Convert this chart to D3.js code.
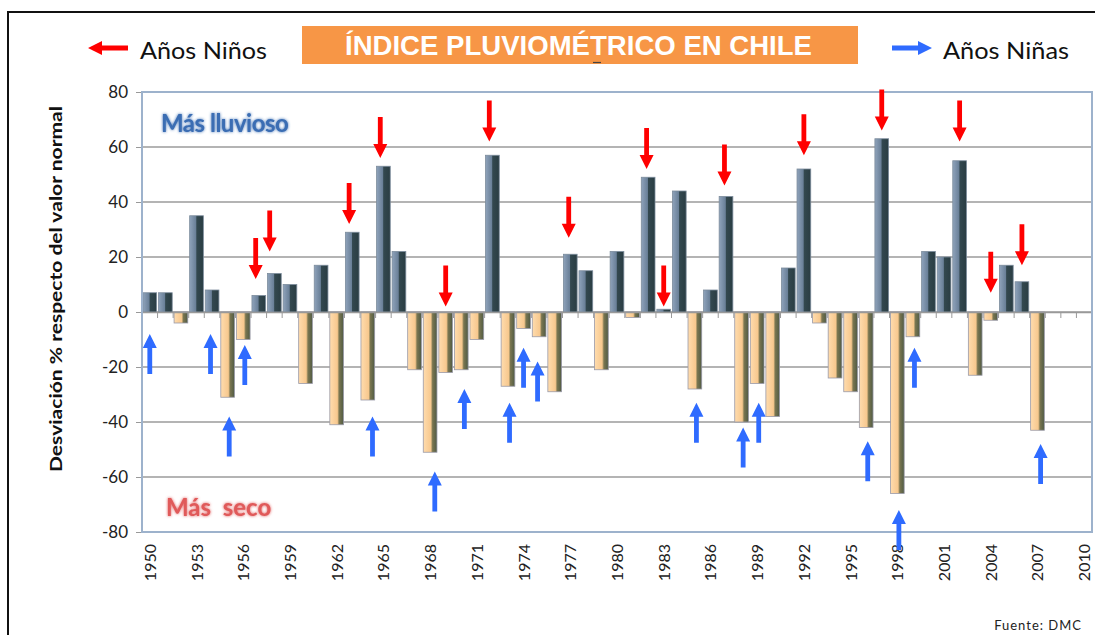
<!DOCTYPE html>
<html>
<head>
<meta charset="utf-8">
<script src="https://cdn.jsdelivr.net/npm/d3@7"></script>
<style>
  body { margin: 0; background: #fff; }
  text { font-family: Lato, "Open Sans", sans-serif; }
</style>
</head>
<body>
<script>
// años 1950-2010, desviación % (2008-2010 sin dato)
const years = d3.range(1950, 2011)
const values = [7, 7, -4, 35, 8, -31, -10, 6, 14, 10,
  -26, 17, -41, 29, -32, 53, 22, -21, -51, -22,
  -21, -10, 57, -27, -6, -9, -29, 21, 15, -21,
  22, -2, 49, 1, 44, -28, 8, 42, -40, -26,
  -38, 16, 52, -4, -24, -29, -42, 63, -66, -9,
  22, 20, 55, -23, -3, 17, 11, -43, null, null, null]
const tickYears = [1950, 1953, 1956, 1959, 1962, 1965, 1968, 1971, 1974, 1977, 1980,
  1983, 1986, 1989, 1992, 1995, 1998, 2001, 2004, 2007, 2010]
const yTicks = [-80, -60, -40, -20, 0, 20, 40, 60, 80]

// flechas: posicion (año) y punta (valor)
const ninoYears = [1956.8, 1957.7, 1962.8, 1964.8, 1969, 1971.8, 1976.9, 1981.9, 1983, 1986.9, 1992, 1997, 2002, 2004, 2006]
const ninoTips = [12, 22, 32, 56, 2, 62, 27, 52, 2, 46, 57, 66, 62, 7, 17]
const ninaYears = [1950, 1953.9, 1955.1, 1956.1, 1964.3, 1968.3, 1970.2, 1973.1, 1974, 1974.9, 1985.1, 1988.1, 1989.1, 1996.1, 1998.1, 1999.1, 2007.2]
const ninaTips = [-8, -8, -38, -12, -38, -58, -28, -33, -13, -18, -33, -42, -33, -47, -72, -13, -48]

const data = years.map((y, i) => ({year: y, v: values[i]}))

const W = 1095, H = 635
const plot = {left: 142, right: 1092, top: 92, bottom: 532}

const svg = d3.select('body').append('svg').attr('width', W).attr('height', H)
const defs = svg.append('defs')

// gradientes tipo excel 3D
const gPos = defs.append('linearGradient').attr('id', 'gpos')
gPos.selectAll('stop').data([
  ['0%', '#8fa3bb'], ['45%', '#6a8098'], ['52%', '#33484f'], ['100%', '#2a3d43']
]).enter().append('stop').attr('offset', d => d[0]).attr('stop-color', d => d[1])
const gNeg = defs.append('linearGradient').attr('id', 'gneg')
gNeg.selectAll('stop').data([
  ['0%', '#ffdcae'], ['55%', '#f7c88e'], ['68%', '#7a7650'], ['100%', '#4f5a44']
]).enter().append('stop').attr('offset', d => d[0]).attr('stop-color', d => d[1])

const glow = defs.append('filter').attr('id', 'glow').attr('x', '-10%').attr('y', '-30%').attr('width', '120%').attr('height', '160%')
glow.append('feGaussianBlur').attr('in', 'SourceGraphic').attr('stdDeviation', 1.6).attr('result', 'b')
const fm = glow.append('feMerge')
fm.append('feMergeNode').attr('in', 'b')
fm.append('feMergeNode').attr('in', 'SourceGraphic')

// marco exterior
svg.append('rect').attr('x', 8).attr('y', 12).attr('width', W).attr('height', H)
  .attr('fill', 'none').attr('stroke', '#111').attr('stroke-width', 2)

const x = d3.scaleBand().domain(years).range([plot.left, plot.right]).paddingInner(0.12).paddingOuter(0.06)
const y = d3.scaleLinear().domain([-80, 80]).range([plot.bottom, plot.top])
const xc = d3.scaleLinear().domain([1950, 2010])
  .range([x(1950) + x.bandwidth() / 2, x(2010) + x.bandwidth() / 2])

// grilla
svg.append('g').selectAll('line').data(yTicks.filter(d => d > -80 && d < 80)).enter().append('line')
  .attr('x1', plot.left).attr('x2', plot.right)
  .attr('y1', d => y(d)).attr('y2', d => y(d))
  .attr('stroke', '#b4b4b4').attr('stroke-width', 2)

// eje y
const yAxis = d3.axisLeft(y).tickValues(yTicks).tickSize(6).tickPadding(8).tickFormat(d => String(d))
const yg = svg.append('g').attr('transform', `translate(${plot.left},0)`).call(yAxis)
yg.select('.domain').remove()
yg.selectAll('line').attr('stroke', '#999')
yg.selectAll('text').attr('font-size', 17).attr('fill', '#222').style('font-family', 'Lato, sans-serif')

// barras
svg.append('g').selectAll('rect').data(data.filter(d => d.v !== null)).enter().append('rect')
  .attr('x', d => x(d.year))
  .attr('width', x.bandwidth())
  .attr('y', d => y(Math.max(0, d.v)))
  .attr('height', d => Math.abs(y(d.v) - y(0)))
  .attr('fill', d => d.v >= 0 ? 'url(#gpos)' : 'url(#gneg)')
  .attr('stroke', d => d.v >= 0 ? '#7c8c9c' : '#9a9aa8')
  .attr('stroke-width', 0.8)

// eje x en cero: marcas entre categorias
const xAxis = d3.axisBottom(x).tickSize(0).tickFormat('')
const xg = svg.append('g').attr('transform', `translate(0,${y(0)})`).call(xAxis)
xg.select('.domain').attr('stroke', '#999').attr('stroke-width', 1.5)
xg.selectAll('.tick').remove()
xg.selectAll('line.sep').data(years.slice(1).concat([2011])).enter().append('line')
  .attr('class', 'sep')
  .attr('x1', d => x(d) !== undefined ? x(d) - x.step() * x.paddingInner() / 2 : plot.right)
  .attr('x2', d => x(d) !== undefined ? x(d) - x.step() * x.paddingInner() / 2 : plot.right)
  .attr('y1', 0).attr('y2', 6).attr('stroke', '#999')

// borde del area de graficos
svg.append('rect').attr('x', plot.left).attr('y', plot.top)
  .attr('width', plot.right - plot.left).attr('height', plot.bottom - plot.top)
  .attr('fill', 'none').attr('stroke', '#9db2cc').attr('stroke-width', 2)

// etiquetas años
svg.append('g').selectAll('text').data(tickYears).enter().append('text')
  .attr('transform', d => `translate(${x(d) + x.bandwidth() / 2 + 6},${plot.bottom + 12}) rotate(-90)`)
  .attr('text-anchor', 'end')
  .attr('font-size', 16).attr('fill', '#222')
  .text(d => d)

// flechas
function arrow(g, cx, tipY, len, dir, color) {
  // dir = 1 apunta abajo, -1 apunta arriba
  const hw = 7, hl = 14, sw = 2.4
  const base = tipY - dir * len
  const neck = tipY - dir * hl
  g.append('path')
    .attr('d', `M${cx - sw},${base} L${cx + sw},${base} L${cx + sw},${neck} L${cx + hw},${neck} L${cx},${tipY} L${cx - hw},${neck} L${cx - sw},${neck} Z`)
    .attr('fill', color)
}
const arrows = svg.append('g')
ninoYears.forEach((yr, i) => arrow(arrows, xc(yr), y(ninoTips[i]), 41, 1, '#ff0000'))
ninaYears.forEach((yr, i) => arrow(arrows, xc(yr), y(ninaTips[i]), 40, -1, '#2f6bff'))

// leyenda
function hArrow(x0, x1, yy, color) {
  const hl = 14, hw = 7, sw = 2.6
  const dir = x1 > x0 ? 1 : -1
  const neck = x1 - dir * hl
  svg.append('path')
    .attr('d', `M${x0},${yy - sw} L${neck},${yy - sw} L${neck},${yy - hw} L${x1},${yy} L${neck},${yy + hw} L${neck},${yy + sw} L${x0},${yy + sw} Z`)
    .attr('fill', color)
}
hArrow(128, 88, 48, '#ff0000')
svg.append('text').attr('x', 140).attr('y', 59).attr('font-size', 23)
  .attr('textLength', 127).attr('lengthAdjust', 'spacingAndGlyphs').attr('fill', '#111').text('Años Niños')
hArrow(892, 932, 48, '#2f6bff')
svg.append('text').attr('x', 943).attr('y', 59).attr('font-size', 23)
  .attr('textLength', 126).attr('lengthAdjust', 'spacingAndGlyphs').attr('fill', '#111').text('Años Niñas')

// titulo
svg.append('rect').attr('x', 302).attr('y', 26).attr('width', 556).attr('height', 38).attr('fill', '#f79646')
svg.append('text').attr('x', 345).attr('y', 55)
  .attr('textLength', 467).attr('lengthAdjust', 'spacingAndGlyphs')
  .attr('font-size', 27).attr('font-weight', 'bold').attr('fill', '#fff')
  .style('font-family', '"Liberation Sans Narrow", "Liberation Sans", Arial, sans-serif')
  .text('ÍNDICE PLUVIOMÉTRICO EN CHILE')
svg.append('line').attr('x1', 593).attr('x2', 601).attr('y1', 62.5).attr('y2', 62.5)
  .attr('stroke', '#444').attr('stroke-width', 1.2)

// anotaciones
svg.append('text').attr('x', 161).attr('y', 132).attr('font-size', 24).attr('font-weight', 'bold')
  .attr('fill', '#3a6db3').attr('filter', 'url(#glow)').attr('letter-spacing', -0.5).text('Más lluvioso')
svg.append('text').attr('x', 166).attr('y', 516).attr('font-size', 24).attr('font-weight', 'bold')
  .attr('fill', '#e05a5a').attr('filter', 'url(#glow)').attr('xml:space', 'preserve').text('Más  seco')

// titulo eje y
svg.append('text').attr('transform', 'translate(62,289) rotate(-90)')
  .attr('text-anchor', 'middle').attr('font-size', 17).attr('font-weight', 'bold').attr('fill', '#111')
  .attr('textLength', 366).attr('lengthAdjust', 'spacingAndGlyphs')
  .text('Desviación % respecto del valor normal')

svg.append('text').attr('x', 1082).attr('y', 630).attr('text-anchor', 'end')
  .attr('font-size', 13).attr('letter-spacing', 1).attr('fill', '#222').text('Fuente: DMC')
</script>
</body>
</html>
